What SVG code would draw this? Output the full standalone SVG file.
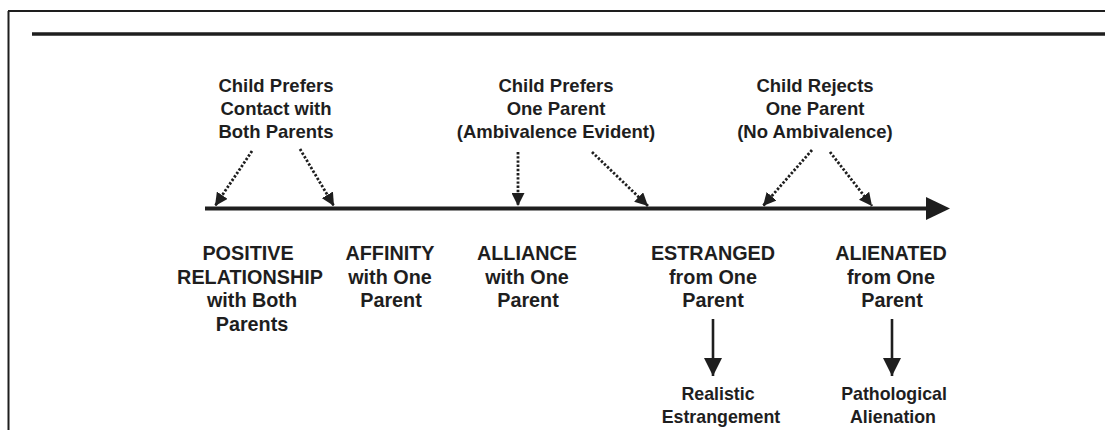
<svg xmlns="http://www.w3.org/2000/svg" width="1105" height="430" viewBox="0 0 1105 430">
<style>
  .t { font-family: "Liberation Sans", Arial, sans-serif; font-weight: bold; font-size: 18.5px; fill: #1e1e1e; text-anchor: middle; }
  .b { font-size: 19.8px; }
  .s { font-size: 17.8px; }
  .dot { stroke: #1e1e1e; stroke-width: 2.8; stroke-dasharray: 2.4 1.8; fill: none; }
  .solid { stroke: #1e1e1e; stroke-width: 2.6; fill: none; }
</style>
<defs>
  <marker id="dart" markerUnits="userSpaceOnUse" markerWidth="13" markerHeight="13" refX="13" refY="6.5" orient="auto" viewBox="0 0 13 13">
    <path d="M0,0 L13,6.5 L0,13 z" fill="#1e1e1e"/>
  </marker>
  <marker id="big" markerUnits="userSpaceOnUse" markerWidth="18" markerHeight="18" refX="18" refY="9" orient="auto" viewBox="0 0 18 18">
    <path d="M0,0 L18,9 L0,18 z" fill="#1e1e1e"/>
  </marker>
</defs>
<rect width="1105" height="430" fill="#ffffff"/>
<g id="frame">
  <line x1="8" y1="11" x2="1105" y2="11" stroke="#1e1e1e" stroke-width="1.8"/>
  <line x1="8.5" y1="11" x2="8.5" y2="430" stroke="#1e1e1e" stroke-width="2"/>
  <line x1="32" y1="34" x2="1105" y2="34" stroke="#1e1e1e" stroke-width="3.5"/>
</g>
<g id="axis">
  <line x1="205" y1="208.5" x2="930" y2="208.5" stroke="#1e1e1e" stroke-width="4"/>
  <polygon points="926,197 950,208.5 926,220" fill="#1e1e1e"/>
</g>
<g id="connectors">
  <line class="dot" x1="252" y1="151" x2="215" y2="206" marker-end="url(#dart)"/>
  <line class="dot" x1="300" y1="149" x2="334" y2="206" marker-end="url(#dart)"/>
  <line class="dot" x1="518" y1="152" x2="518" y2="206" marker-end="url(#dart)"/>
  <line class="dot" x1="592" y1="152" x2="648" y2="206" marker-end="url(#dart)"/>
  <line class="dot" x1="812" y1="150" x2="763" y2="206" marker-end="url(#dart)"/>
  <line class="dot" x1="830" y1="152" x2="872" y2="206" marker-end="url(#dart)"/>
  <line class="solid" x1="713" y1="319" x2="713" y2="376" marker-end="url(#big)"/>
  <line class="solid" x1="892" y1="319" x2="892" y2="376" marker-end="url(#big)"/>
</g>
<g id="top-both">
  <text class="t" x="276" y="92">Child Prefers</text>
  <text class="t" x="276" y="115">Contact with</text>
  <text class="t" x="276" y="138">Both Parents</text>
</g>
<g id="top-one">
  <text class="t" x="556" y="92">Child Prefers</text>
  <text class="t" x="556" y="115">One Parent</text>
  <text class="t" x="556" y="138">(Ambivalence Evident)</text>
</g>
<g id="top-rejects">
  <text class="t" x="815" y="92">Child Rejects</text>
  <text class="t" x="815" y="115">One Parent</text>
  <text class="t" x="815" y="138">(No Ambivalence)</text>
</g>
<g id="positive">
  <text class="t b" x="248" y="260">POSITIVE</text>
  <text class="t b" x="250" y="284">RELATIONSHIP</text>
  <text class="t b" x="252" y="307">with Both</text>
  <text class="t b" x="252" y="331">Parents</text>
</g>
<g id="affinity">
  <text class="t b" x="390" y="260">AFFINITY</text>
  <text class="t b" x="390" y="284">with One</text>
  <text class="t b" x="391" y="307">Parent</text>
</g>
<g id="alliance">
  <text class="t b" x="527" y="260">ALLIANCE</text>
  <text class="t b" x="527" y="284">with One</text>
  <text class="t b" x="528" y="307">Parent</text>
</g>
<g id="estranged">
  <text class="t b" x="713" y="260">ESTRANGED</text>
  <text class="t b" x="713" y="284">from One</text>
  <text class="t b" x="713" y="307">Parent</text>
</g>
<g id="alienated">
  <text class="t b" x="891" y="260">ALIENATED</text>
  <text class="t b" x="891" y="284">from One</text>
  <text class="t b" x="892" y="307">Parent</text>
</g>
<g id="realistic">
  <text class="t s" x="718" y="400">Realistic</text>
  <text class="t s" x="721" y="423">Estrangement</text>
</g>
<g id="pathological">
  <text class="t s" x="894" y="400">Pathological</text>
  <text class="t s" x="893" y="423">Alienation</text>
</g>
</svg>
